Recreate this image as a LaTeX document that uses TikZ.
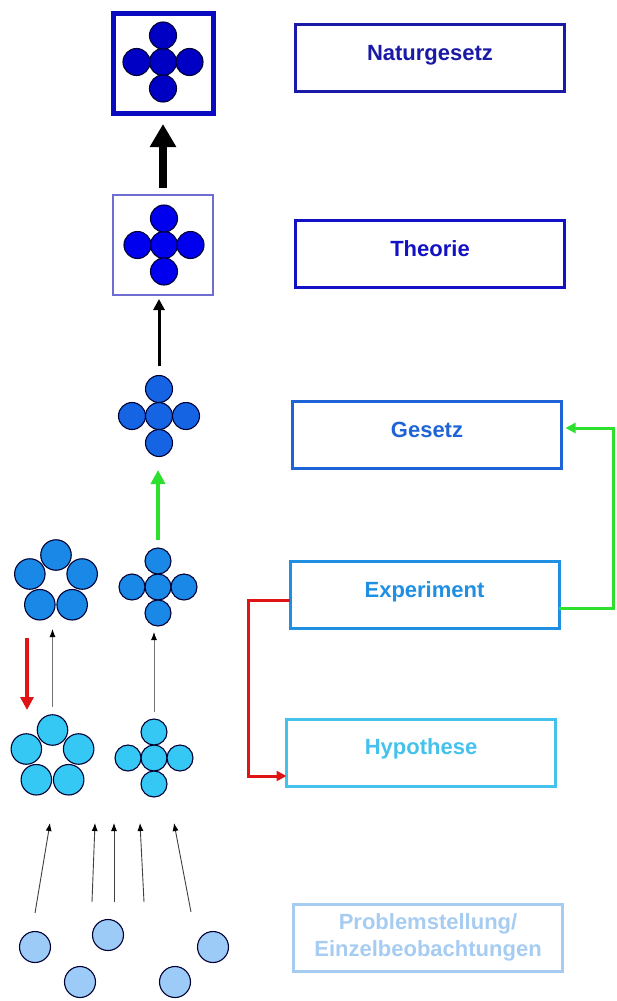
\documentclass[tikz,border=0pt]{standalone}
\usepackage{fontspec}
\setmainfont{Liberation Sans}
\usetikzlibrary{arrows.meta,calc}

\definecolor{natcol}{HTML}{1A1AA6}
\definecolor{thcol}{HTML}{1212C4}
\definecolor{gzcol}{HTML}{1E64D6}
\definecolor{excol}{HTML}{1F8FE3}
\definecolor{hycol}{HTML}{44C2EC}
\definecolor{prcol}{HTML}{A6CCF2}
\definecolor{natball}{HTML}{0000C4}
\definecolor{thball}{HTML}{0000EE}
\definecolor{gzball}{HTML}{1464E4}
\definecolor{exball}{HTML}{1A88E6}
\definecolor{hyball}{HTML}{36C8F4}
\definecolor{prball}{HTML}{9CCBF8}
\definecolor{natframe}{HTML}{0A0AC0}
\definecolor{thframe}{HTML}{6E6ED2}
\definecolor{backred}{HTML}{E01414}
\definecolor{fwdgreen}{HTML}{2EE02E}

\tikzset{
    stagebox/.style={draw, line width=3pt, minimum width=269pt, minimum height=67pt,
        outer sep=0pt, font=\bfseries\fontsize{22}{27}\selectfont},
    stage/.style={stagebox, text height=12pt, text depth=8pt},
    ball/.style={circle, draw=black!80!blue, line width=1.1pt, inner sep=0pt,
        outer sep=0pt, minimum size=#1},
    ball/.default=27pt,
    thinarrow/.style={draw=black!55, line width=0.9pt, -{Latex[color=black,length=8pt,width=6pt]}},
}

\begin{document}
\begin{tikzpicture}[x=1pt, y=-1pt]
    \useasboundingbox (0,0) rectangle (617,1001);

    % stages
    \node[stage, draw=natcol, text=natcol] (nat) at (430,58) {Naturgesetz};
    \node[stage, draw=thcol, text=thcol] (th) at (430,254) {Theorie};
    \node[stage, draw=gzcol, text=gzcol] (gz) at (427,435) {Gesetz};
    \node[stage, draw=excol, text=excol] (ex) at (424.5,595) {Experiment};
    \node[stage, draw=hycol, text=hycol] (hy) at (421,752.5) {Hypothese};
    \node[stagebox, draw=prcol, text=prcol, align=center] (pr) at (428,937.5)
        {Problemstellung/\\Einzelbeobachtungen};

    % frames
    \node[draw=natframe, line width=5pt, minimum size=100pt, outer sep=0pt] (natIcon) at (163,63) {};
    \node[draw=thframe, line width=1.5pt, minimum size=100pt, outer sep=0pt] (thIcon) at (163,245) {};

    % crosses of balls
    \foreach \grp/\cx/\cy/\d/\sz/\col in {natB/163/62/26.5/27pt/natball, thB/164/245/26.5/27pt/thball,
        gzB/159/416/27/27pt/gzball, exX/158/587/26/26pt/exball, hyX/154/758/26/26pt/hyball}
        \foreach \nm/\dx/\dy in {c/0/0, n/0/-1, s/0/1, w/-1/0, e/1/0}
            \node[ball=\sz, fill=\col] (\grp-\nm) at ({\cx+\d*(\dx)}, {\cy+\d*(\dy)}) {};

    % rings of balls
    \foreach \grp/\cx/\cy/\col in {exP/56/582.5/exball, hyP/52.5/757.5/hyball}
        \foreach \i/\a in {1/-90, 2/-18, 3/54, 4/126, 5/198}
            \node[ball=30.5pt, fill=\col] (\grp-\i) at ($(\cx,\cy)+(\a:27.5)$) {};

    % single observations
    \foreach \i/\px/\py in {1/35/947, 2/80/982, 3/108/935, 4/175/982, 5/213/947}
        \node[ball=31pt, fill=prball] (prB-\i) at (\px,\py) {};

    % arrows up the left column
    \draw[line width=8pt, -{Triangle[length=23pt,width=25pt]}, shorten <=7pt, shorten >=11pt]
        (thIcon.north) -- (natIcon.south);
    \draw[line width=3pt, -{Triangle[length=11pt,width=11pt]}, shorten <=9.5pt, shorten >=4pt]
        (gzB-n.north) -- (gzB-n.north |- thIcon.south);
    \draw[fwdgreen, line width=4.5pt, -{Triangle[length=14pt,width=14pt]}, shorten <=8pt, shorten >=13.5pt]
        (exX-n.north) -- (exX-n.north |- gzB-s.south);
    \draw[thinarrow, shorten <=8pt, shorten >=9pt] (hyP-1.north) -- (hyP-1.north |- exP-3.south);
    \draw[thinarrow, shorten <=7pt, shorten >=6pt] (hyX-n.north) -- (hyX-n.north |- exX-s.south);
    \coordinate (backTop) at (27,638);
    \coordinate (backBot) at (27,710);
    \draw[backred, line width=3.5pt, -{Triangle[length=13pt,width=13pt]}] (backTop) -- (backBot);

    \foreach \i/\ax/\ay/\bx/\by in {1/35/913/50/823, 2/92/902/95/823, 3/114/902/114/823,
        4/144/902/140/823, 5/191/912/174/823} {
        \coordinate (obs-\i) at (\ax,\ay);
        \coordinate (hyIn-\i) at (\bx,\by);
        \draw[thinarrow, draw=black!75] (obs-\i) -- (hyIn-\i);
    }

    % loops between the stages
    \draw[backred, line width=3pt, -{Triangle[length=10pt,width=10pt]}]
        ([yshift=-5pt]ex.west) -- ++(-42,0) |- ([yshift=-23.5pt]hy.west);
    \draw[fwdgreen, line width=3pt, -{Triangle[length=10pt,width=10pt]}]
        ([yshift=-13pt]ex.east) -- ++(54,0) |- ([yshift=7pt,xshift=4pt]gz.east);
\end{tikzpicture}
\end{document}
